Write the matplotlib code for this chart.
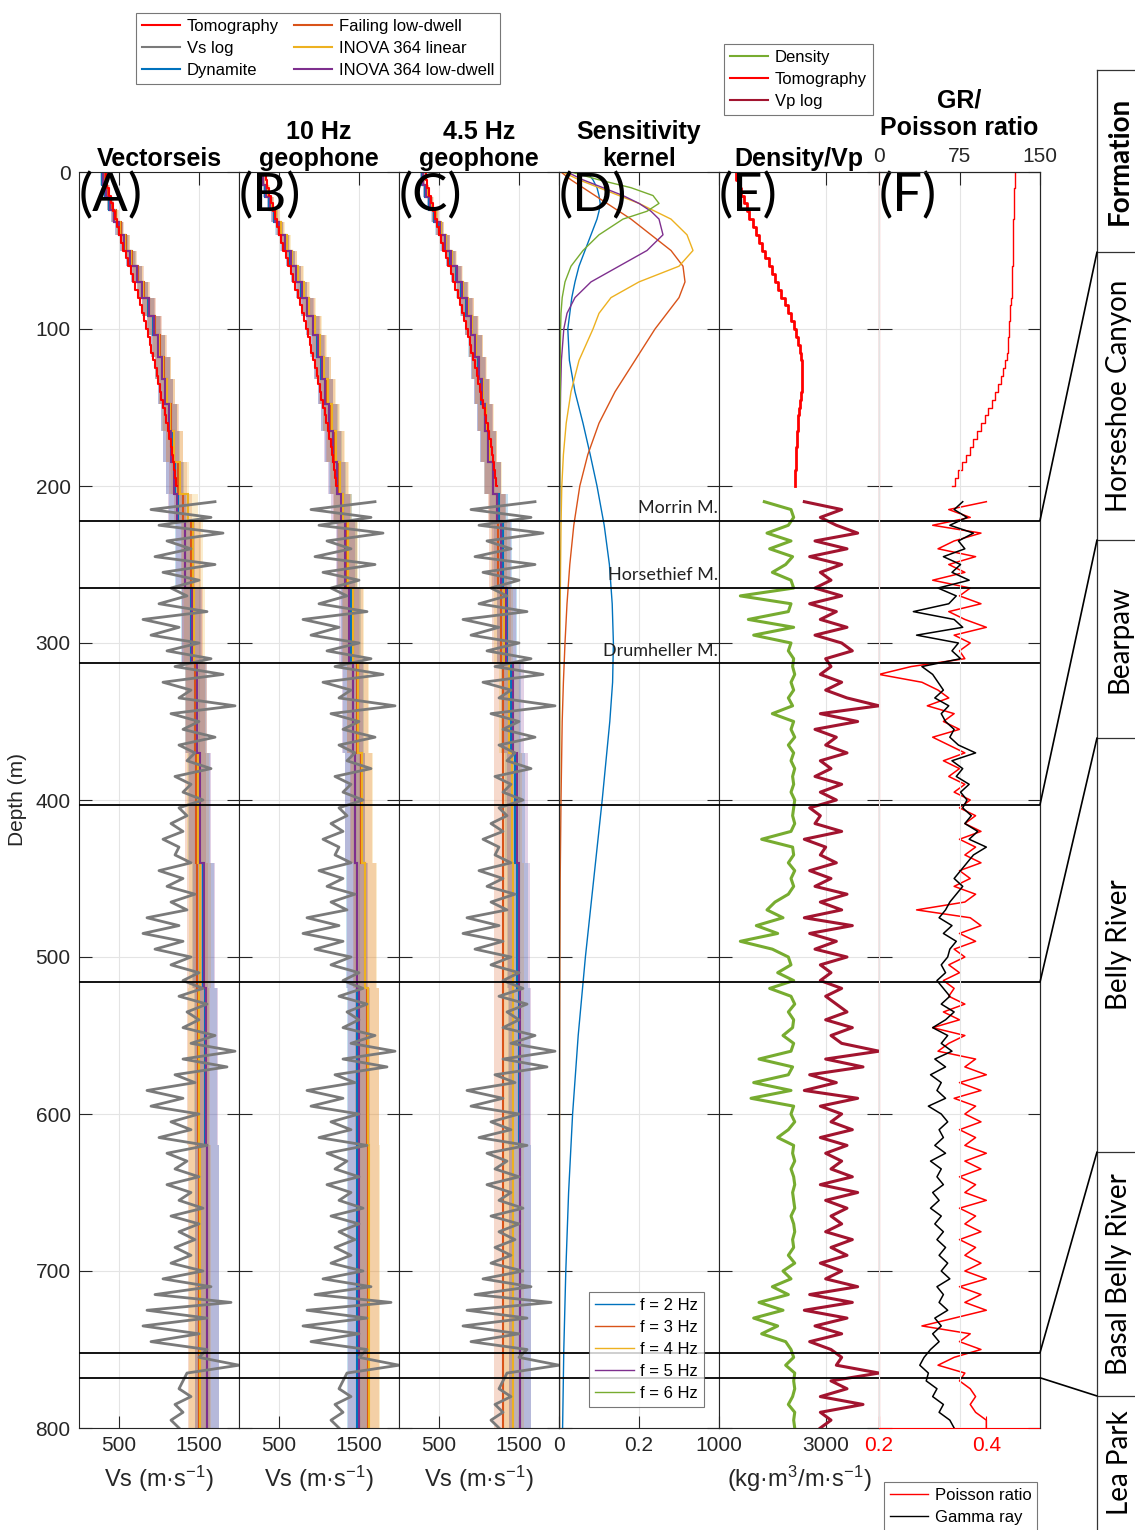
import numpy as np
import matplotlib
matplotlib.use("Agg")
import matplotlib.pyplot as plt
from matplotlib.lines import Line2D
from matplotlib.patches import ConnectionPatch

plt.rcParams['font.family'] = ['Liberation Sans', 'DejaVu Sans']
plt.rcParams['mathtext.fontset'] = 'custom'
plt.rcParams['mathtext.rm'] = 'Liberation Sans'
plt.rcParams['mathtext.it'] = 'Liberation Sans:italic'
plt.rcParams['mathtext.bf'] = 'Liberation Sans:bold'

# ------------------------------------------------------------------ data
panel_titles = ['Vectorseis', '10 Hz\ngeophone', '4.5 Hz\ngeophone',
                'Sensitivity\nkernel', 'Density/Vp']
panel_letters = ['(A)', '(B)', '(C)', '(D)', '(E)', '(F)']
source_labels = ['Dynamite', 'Failing low-dwell', 'INOVA 364 linear', 'INOVA 364 low-dwell']

# layered inversion models (layer edges in m, Vs in m/s)
layer_edges = [0, 8, 16, 24, 32, 40, 50, 60, 70, 80, 92, 104, 118, 132, 148,
               165, 185, 205, 222, 265, 313, 370, 440, 520, 620, 800]
dyn_A = [290, 330, 380, 440, 500, 570, 650, 720, 790, 860, 930, 990, 1040, 1080, 1120, 1160, 1200, 1240,
         1320, 1400, 1460, 1500, 1550, 1580, 1600]
fail_A = [310, 350, 400, 460, 520, 590, 660, 740, 810, 880, 950, 1010, 1060, 1100, 1150, 1190, 1240, 1300,
          1400, 1420, 1450, 1460, 1480, 1490, 1500]
lin_A = [300, 340, 390, 450, 510, 580, 655, 730, 800, 870, 940, 1000, 1050, 1100, 1140, 1190, 1260, 1360,
         1420, 1440, 1470, 1490, 1510, 1500, 1510]
low_A = [300, 340, 390, 440, 500, 560, 640, 720, 790, 870, 940, 990, 1040, 1080, 1120, 1150, 1190, 1225,
         1330, 1410, 1470, 1510, 1560, 1590, 1600]
dyn_B = [290, 330, 380, 440, 500, 570, 640, 710, 780, 850, 920, 980, 1030, 1080, 1130, 1180, 1230, 1300,
         1350, 1400, 1430, 1450, 1470, 1480, 1480]
fail_B = [300, 345, 400, 460, 520, 590, 660, 730, 800, 870, 940, 1000, 1050, 1100, 1150, 1200, 1250, 1290,
          1350, 1420, 1480, 1530, 1570, 1600, 1610]
lin_B = [305, 350, 405, 465, 525, 595, 665, 740, 810, 880, 950, 1010, 1060, 1110, 1160, 1210, 1260, 1300,
         1360, 1430, 1490, 1540, 1580, 1610, 1620]
low_B = [295, 335, 385, 445, 505, 575, 645, 715, 785, 855, 925, 985, 1035, 1080, 1120, 1170, 1220, 1270,
         1330, 1380, 1420, 1450, 1480, 1500, 1500]
dyn_C = [290, 330, 380, 440, 500, 570, 640, 710, 780, 840, 900, 950, 990, 1030, 1070, 1110, 1170, 1250,
         1300, 1350, 1400, 1450, 1480, 1500, 1510]
fail_C = [300, 340, 395, 455, 515, 585, 655, 725, 795, 855, 910, 960, 1000, 1040, 1080, 1120, 1170, 1220,
          1240, 1280, 1300, 1300, 1300, 1300, 1300]
lin_C = [300, 345, 400, 460, 520, 590, 660, 730, 800, 860, 915, 965, 1005, 1045, 1085, 1125, 1180, 1230,
         1270, 1310, 1380, 1410, 1430, 1430, 1430]
low_C = [295, 335, 390, 450, 510, 580, 650, 720, 790, 850, 905, 955, 995, 1035, 1075, 1115, 1175, 1230,
         1280, 1340, 1430, 1480, 1500, 1510, 1510]

# tomography (0-200 m, every 5 m)
tomo_vs = [340, 355, 375, 395, 420, 445, 470, 500, 525, 555,
           585, 615, 645, 675, 705, 735, 760, 785, 810, 835,
           860, 882, 904, 926, 948, 970, 990, 1010, 1030, 1050,
           1070, 1090, 1110, 1128, 1145, 1160, 1175, 1190, 1205, 1218,
           1230]
tomo_vp = [1320, 1370, 1420, 1470, 1520, 1570, 1630, 1690, 1750, 1810,
           1870, 1930, 1990, 2050, 2110, 2170, 2230, 2290, 2350, 2400,
           2450, 2490, 2520, 2545, 2560, 2565, 2560, 2550, 2535, 2520,
           2505, 2490, 2475, 2465, 2455, 2445, 2440, 2435, 2430, 2425,
           2420]
tomo_pr = [0.454, 0.453, 0.452, 0.452, 0.451, 0.451, 0.450, 0.450, 0.449, 0.449,
           0.449, 0.449, 0.448, 0.448, 0.447, 0.447, 0.446, 0.445, 0.444, 0.443,
           0.442, 0.441, 0.440, 0.438, 0.435, 0.431, 0.427, 0.422, 0.417, 0.411,
           0.404, 0.397, 0.390, 0.383, 0.376, 0.369, 0.362, 0.355, 0.348, 0.341,
           0.336]

# well logs (210-800 m, every 5 m)
vs_log = [1700, 900, 1650, 1000, 1800, 1100, 1400, 950, 1700, 1050,
          1500, 1150, 1350, 1000, 1600, 800, 1250, 900, 1500, 1100,
          1650, 1200, 1800, 1050, 1400, 1250, 1950, 1150, 1500, 1300,
          1700, 1250, 1450, 1350, 1650, 1200, 1400, 1300, 1550, 1250,
          1350, 1150, 1300, 1050, 1250, 1200, 1400, 1000, 1300, 1100,
          1450, 1150, 1350, 850, 1250, 800, 1300, 950, 1400, 1150,
          1500, 1300, 1550, 1250, 1600, 1350, 1500, 1300, 1700, 1400,
          1950, 1300, 1850, 1200, 1450, 850, 1300, 900, 1500, 1150,
          1400, 1000, 1600, 1100, 1350, 1200, 1500, 1100, 1400, 1250,
          1550, 1150, 1500, 1250, 1450, 1200, 1400, 1150, 1550, 1050,
          1650, 950, 1900, 850, 1600, 800, 1500, 900, 1600, 1500,
          2000, 1350, 1300, 1250, 1400, 1200, 1300, 1150, 1250]
density_log = [1850, 2350, 2400, 2300, 1900, 2350, 1950, 2380, 2250, 2000,
               2350, 2400, 1400, 2350, 2300, 1550, 2400, 1650, 2350, 2300,
               2400, 2380, 2420, 2350, 2400, 2300, 2380, 2000, 2400, 2350,
               2420, 2300, 2400, 2350, 2420, 2380, 2400, 2350, 2420, 2400,
               2380, 2420, 2350, 1800, 2380, 2400, 2300, 2420, 2350, 2400,
               2300, 2050, 1900, 2200, 1700, 2100, 1400, 2000, 2300, 2350,
               2100, 2400, 1950, 2350, 2420, 2300, 2400, 2380, 2200, 2400,
               2350, 1750, 2380, 2300, 1650, 2350, 1600, 2400, 2350, 2420,
               2300, 2100, 2400, 2380, 2420, 2350, 2400, 2420, 2380, 2400,
               2420, 2350, 2400, 2420, 2380, 2400, 2300, 2420, 2200, 2350,
               2000, 2300, 1750, 2200, 1650, 2100, 1800, 2250, 2350, 2400,
               2250, 2420, 2400, 2420, 2380, 2300, 2420, 2400, 2420]
vp_log = [2600, 3300, 2900, 3200, 3600, 2800, 3400, 2700, 3300, 2900,
          3100, 2800, 3300, 2700, 3200, 2900, 3400, 2800, 3300, 3500,
          3000, 3100, 2900, 3300, 3000, 3400, 4000, 2900, 3600, 2800,
          3200, 3000, 3400, 2900, 3100, 2800, 3300, 2900, 3200, 2700,
          2900, 2800, 3300, 2600, 3000, 2900, 3200, 2700, 3100, 2800,
          3400, 2900, 3300, 2600, 3500, 2700, 3200, 2800, 3400, 2900,
          3100, 2900, 3300, 3000, 3200, 3400, 3000, 3500, 3100, 3300,
          4000, 3000, 3700, 2700, 3200, 2600, 3600, 2900, 3300, 3100,
          3500, 2900, 3400, 3000, 3300, 3100, 3500, 2900, 3600, 3000,
          3400, 3100, 3300, 3000, 3500, 3100, 3400, 2900, 3300, 3000,
          3600, 2700, 3500, 2600, 3400, 2800, 3300, 2700, 3100, 3300,
          3200, 4000, 3100, 3400, 2900, 3700, 2900, 3100, 2900]
poisson_log = [0.40, 0.33, 0.37, 0.30, 0.39, 0.34, 0.31, 0.38, 0.33, 0.36,
               0.30, 0.37, 0.35, 0.39, 0.33, 0.36, 0.40, 0.34, 0.37, 0.35,
               0.36, 0.26, 0.20, 0.28, 0.31, 0.33, 0.29, 0.34, 0.32, 0.35,
               0.30, 0.33, 0.36, 0.32, 0.35, 0.33, 0.36, 0.34, 0.37, 0.35,
               0.38, 0.36, 0.39, 0.35, 0.38, 0.36, 0.39, 0.35, 0.37, 0.34,
               0.38, 0.36, 0.27, 0.37, 0.39, 0.35, 0.38, 0.34, 0.36, 0.33,
               0.35, 0.32, 0.34, 0.33, 0.36, 0.32, 0.35, 0.30, 0.36, 0.33,
               0.31, 0.38, 0.36, 0.40, 0.35, 0.39, 0.34, 0.38, 0.36, 0.39,
               0.35, 0.38, 0.36, 0.40, 0.36, 0.39, 0.35, 0.38, 0.36, 0.40,
               0.35, 0.38, 0.36, 0.39, 0.35, 0.38, 0.36, 0.39, 0.36, 0.40,
               0.35, 0.39, 0.36, 0.40, 0.34, 0.28, 0.37, 0.35, 0.39, 0.34,
               0.31, 0.36, 0.35, 0.37, 0.38, 0.37, 0.38, 0.40, 0.40]
gr_log = [78, 70, 82, 66, 88, 74, 80, 60, 76, 68,
          84, 55, 72, 65, 32, 70, 78, 35, 74, 68,
          76, 40, 50, 55, 60, 52, 65, 58, 62, 70,
          66, 74, 90, 68, 78, 72, 84, 76, 82, 78,
          86, 80, 92, 84, 100, 88, 82, 76, 70, 78,
          72, 66, 62, 56, 68, 60, 72, 66, 64, 58,
          62, 54, 60, 66, 58, 70, 62, 50, 64, 58,
          68, 52, 62, 48, 58, 54, 62, 46, 58, 64,
          56, 60, 52, 62, 48, 58, 54, 60, 50, 56,
          48, 58, 52, 60, 54, 62, 56, 64, 58, 66,
          54, 60, 56, 64, 52, 58, 50, 56, 48, 42,
          38, 46, 44, 54, 50, 60, 56, 66, 70]

# sensitivity kernels
kernel_depth = [0, 5, 10, 15, 20, 25, 30, 40, 50, 60, 70, 80, 90, 100, 120, 140, 160, 180, 200,
                225, 250, 275, 300, 325, 350, 400, 450, 500, 550, 600, 650, 700, 750, 800]
kernel_labels = ['f = 2 Hz', 'f = 3 Hz', 'f = 4 Hz', 'f = 5 Hz', 'f = 6 Hz']
k2 = [0.07, 0.085, 0.095, 0.1, 0.103, 0.1, 0.095, 0.08, 0.065, 0.05, 0.04, 0.032, 0.027, 0.022, 0.026,
      0.04, 0.06, 0.078, 0.095, 0.113, 0.126, 0.133, 0.136, 0.134, 0.127, 0.108, 0.087, 0.066, 0.048,
      0.034, 0.024, 0.017, 0.012, 0.009]
k3 = [0.005, 0.03, 0.06, 0.09, 0.12, 0.15, 0.18, 0.23, 0.28, 0.31, 0.315, 0.3, 0.27, 0.24, 0.19, 0.14,
      0.1, 0.072, 0.052, 0.037, 0.027, 0.02, 0.015, 0.011, 0.008, 0.005, 0.003, 0.002, 0.0015, 0.001,
      0.001, 0.001, 0.001, 0.001]
k4 = [0.01, 0.05, 0.1, 0.15, 0.2, 0.24, 0.28, 0.32, 0.335, 0.3, 0.2, 0.13, 0.1, 0.085, 0.05, 0.03,
      0.018, 0.011, 0.007, 0.005, 0.004, 0.003, 0.002, 0.002, 0.002, 0.001, 0.001, 0.001, 0.001, 0.001,
      0.001, 0.001, 0.001, 0.001]
k5 = [0.02, 0.06, 0.11, 0.16, 0.2, 0.23, 0.25, 0.26, 0.22, 0.15, 0.08, 0.04, 0.02, 0.012, 0.006, 0.004,
      0.003, 0.002, 0.002, 0.001, 0.001, 0.001, 0.001, 0.001, 0.001, 0.001, 0.001, 0.001, 0.001, 0.001,
      0.001, 0.001, 0.001, 0.001]
k6 = [0.03, 0.1, 0.18, 0.235, 0.25, 0.22, 0.16, 0.1, 0.06, 0.03, 0.015, 0.008, 0.005, 0.004, 0.003,
      0.003, 0.002, 0.002, 0.002, 0.001, 0.001, 0.001, 0.001, 0.001, 0.001, 0.001, 0.001, 0.001, 0.001,
      0.001, 0.001, 0.001, 0.001, 0.001]

# horizons and formations
horizon_depths = [222, 265, 313, 403, 516, 752, 768]
marker_names = ['Morrin M.', 'Horsethief M.', 'Drumheller M.']
formation_names = ['Horseshoe Canyon', 'Bearpaw', 'Belly River', 'Basal Belly River', 'Lea Park']
formation_edges = [0.0, 0.1247, 0.3219, 0.4575, 0.7411, 0.9082, 1.0]   # fraction of the column
connector_depths = [222, 403, 516, 752, 768]

# ------------------------------------------------------------------ style
C_DYN, C_FAIL, C_LIN, C_LOW = '#0072BD', '#D95319', '#EDB120', '#7E2F8E'
C_GREEN, C_VP, C_TOMO, C_LOG = '#77AC30', '#A2142F', '#FF0000', '#7A7A7A'
src_colors = [C_DYN, C_FAIL, C_LIN, C_LOW]
kernel_colors = [C_DYN, C_FAIL, C_LIN, C_LOW, C_GREEN]
AX_C = '#262626'
CAL = ['Lato', 'DejaVu Sans']
TITLE_FS = 18
LEG_KW = dict(frameon=True, fancybox=False, edgecolor='#555555', handlelength=2.3,
              handletextpad=0.4, labelspacing=0.42, borderpad=0.35, borderaxespad=0)

W, H = 1135, 1530
fig = plt.figure(figsize=(W / 100, H / 100), dpi=100)


def px_axes(x0, x1, y0, y1):
    return fig.add_axes([x0 / W, 1 - y1 / H, (x1 - x0) / W, (y1 - y0) / H])


TOP, BOT = 172, 1428
XS = [79, 239, 399, 559, 719, 879, 1040]
axes = [px_axes(XS[i], XS[i + 1], TOP, BOT) for i in range(6)]


def style(ax, ylabels=False):
    ax.set_ylim(800, 0)
    ax.set_yticks(range(0, 801, 100))
    if not ylabels:
        ax.set_yticklabels([])
    ax.tick_params(direction='in', length=9, width=0.8, top=True, right=True,
                   labelsize=15, color=AX_C, labelcolor=AX_C, pad=6)
    ax.grid(True, color='#e4e4e4', lw=0.8)
    ax.set_axisbelow(True)
    for s in ax.spines.values():
        s.set_color(AX_C)
        s.set_linewidth(0.8)


log_depth = np.linspace(210, 800, len(vs_log))
tomo_depth = np.linspace(0, 200, len(tomo_vs))
edges = np.asarray(layer_edges, float)

profiles = [(dyn_A, fail_A, lin_A, low_A), (dyn_B, fail_B, lin_B, low_B), (dyn_C, fail_C, lin_C, low_C)]
for i, (ax, prof) in enumerate(zip(axes[:3], profiles)):
    style(ax, ylabels=(i == 0))
    for v, c in zip(prof, src_colors):
        v = np.asarray(v, float)
        ax.stairs(v * 1.09, edges, baseline=v * 0.91, fill=True, orientation='horizontal',
                  color=c, alpha=0.22, lw=0)
    ax.plot(vs_log, log_depth, color=C_LOG, lw=2)
    for v, c in zip(prof, src_colors):
        ax.stairs(v, edges, orientation='horizontal', baseline=None, color=c, lw=1.5)
    ax.plot(tomo_vs, tomo_depth, color=C_TOMO, lw=1.5, drawstyle='steps-pre')
    ax.set_xlim(0, 2000)
    ax.set_xticks([500, 1500])
    ax.set_xlabel('Vs (m·s$^{-1}$)', fontsize=17, color=AX_C, labelpad=6)
    ax.set_title(panel_titles[i], fontsize=TITLE_FS, fontweight='bold', pad=4, linespacing=1.2)

axes[0].set_ylabel('Depth (m)', fontsize=15, color=AX_C, labelpad=6)

# D: kernels
axD = axes[3]
style(axD)
for k, c, lab in zip([k2, k3, k4, k5, k6], kernel_colors, kernel_labels):
    axD.plot(k, kernel_depth, color=c, lw=1.0, label=lab)
axD.set_xlim(0, 0.4)
axD.set_xticks([0, 0.2])
axD.set_xticklabels(['0', '0.2'])
axD.set_title(panel_titles[3], fontsize=TITLE_FS, fontweight='bold', pad=4, linespacing=1.2)
legD = axD.legend(loc='upper left', bbox_to_anchor=(0.19, 0.108), fontsize=12, **LEG_KW)
legD.get_frame().set_linewidth(0.8)
legD.set_zorder(20)
for d, name in zip(horizon_depths[:3], marker_names):
    axD.text(0.398, d - 3, name, ha='right', va='bottom', fontsize=13, family=CAL, color='#222222')

# E: density / Vp
axE = axes[4]
style(axE)
axE.plot(density_log, log_depth, color=C_GREEN, lw=2.2, label='Density')
axE.plot(tomo_vp, tomo_depth, color=C_TOMO, lw=2, drawstyle='steps-pre', label='Tomography')
axE.plot(vp_log, log_depth, color=C_VP, lw=2.2, label='Vp log')
axE.set_xlim(1000, 4000)
axE.set_xticks([1000, 3000])
axE.set_xlabel('(kg·m$^{3}$/m·s$^{-1}$)', fontsize=17, color=AX_C, labelpad=6)
axE.set_title(panel_titles[4], fontsize=TITLE_FS, fontweight='bold', pad=4)
legE = fig.legend(handles=[Line2D([], [], color=C_GREEN, lw=1.5), Line2D([], [], color=C_TOMO, lw=1.5),
                           Line2D([], [], color=C_VP, lw=1.5)],
                  labels=['Density', 'Tomography', 'Vp log'], loc='upper left',
                  bbox_to_anchor=(724 / W, 1 - 44 / H), fontsize=12, **LEG_KW)
legE.get_frame().set_linewidth(0.8)

# F: Poisson ratio / GR
axF = axes[5]
style(axF)
axF.grid(False, axis='x')
axF.plot(tomo_pr, tomo_depth, color=C_TOMO, lw=1.0, drawstyle='steps-pre')
axF.plot(poisson_log, log_depth, color=C_TOMO, lw=1.1)
axF.set_xlim(0.2, 0.5)
axF.set_xticks([0.2, 0.4])
axF.set_xticklabels(['0.2', '0.4'])
axF.tick_params(axis='x', colors='red', labelcolor='red', top=False)
axF.spines['left'].set_color('red')
axF.spines['bottom'].set_color('red')
for t in axF.yaxis.get_major_ticks():
    t.tick1line.set_color('red')
axF2 = axF.twiny()
axF2.plot(gr_log, log_depth, color='black', lw=1.1)
axF2.set_xlim(0, 150)
axF2.set_xticks([0, 75, 150])
axF2.tick_params(axis='x', direction='in', length=9, width=0.8, labelsize=15, color=AX_C,
                 labelcolor=AX_C, pad=4)
axF2.grid(True, axis='x', color='#e4e4e4', lw=0.8)
axF2.set_axisbelow(True)
for s in ['bottom', 'left']:
    axF2.spines[s].set_visible(False)
for s in ['top', 'right']:
    axF2.spines[s].set_color(AX_C)
    axF2.spines[s].set_linewidth(0.8)
axF2.set_title('GR/\nPoisson ratio', fontsize=TITLE_FS, fontweight='bold', pad=9, linespacing=1.2)
legF = fig.legend(handles=[Line2D([], [], color=C_TOMO, lw=1), Line2D([], [], color='black', lw=1)],
                  labels=['Poisson ratio', 'Gamma ray'], loc='upper left',
                  bbox_to_anchor=(884 / W, 1 - 1482 / H), fontsize=12, **LEG_KW)
legF.get_frame().set_linewidth(0.8)

# horizons and panel letters
for ax, letter in zip(axes, panel_letters):
    for d in horizon_depths:
        ax.axhline(d, color='black', lw=1.3, zorder=6)
    ax.text(-0.005, 1.0, letter, transform=ax.transAxes, ha='left', va='top', fontsize=38,
            family=CAL, color='black', zorder=10)

# top legend
src_handles = [Line2D([], [], color=C_TOMO, lw=1.5), Line2D([], [], color=C_LOG, lw=1.5),
               Line2D([], [], color=C_DYN, lw=1.5), Line2D([], [], color=C_FAIL, lw=1.5),
               Line2D([], [], color=C_LIN, lw=1.5), Line2D([], [], color=C_LOW, lw=1.5)]
src_names = ['Tomography', 'Vs log', source_labels[0], source_labels[1], source_labels[2], source_labels[3]]
legT = fig.legend(handles=src_handles, labels=src_names, loc='upper left', ncol=2,
                  bbox_to_anchor=(136 / W, 1 - 13 / H), fontsize=12, columnspacing=0.9, **LEG_KW)
legT.get_frame().set_linewidth(0.8)

# formation column
axFm = fig.add_axes([1097 / W, 0, 45 / W, 1 - 70 / H])
axFm.set_xlim(0, 1)
axFm.set_ylim(1, 0)
axFm.set_xticks([])
axFm.set_yticks([])
for s in ['right', 'bottom']:
    axFm.spines[s].set_visible(False)
for s in ['left', 'top']:
    axFm.spines[s].set_color('#333333')
    axFm.spines[s].set_linewidth(0.9)
for e in formation_edges[1:-1]:
    axFm.axhline(e, color='#333333', lw=0.9)
axFm.text(0.5, (formation_edges[0] + formation_edges[1]) / 2, 'Formation', rotation=90,
          ha='center', va='center', fontsize=20, fontweight='bold', family=CAL)
for name, a, b in zip(formation_names, formation_edges[1:-1], formation_edges[2:]):
    axFm.text(0.5, (a + b) / 2, name, rotation=90, ha='center', va='center', fontsize=20, family=CAL)

for d, e in zip(connector_depths, formation_edges[1:-1]):
    con = ConnectionPatch(xyA=(0.5, d), coordsA=axF.transData, xyB=(0, e), coordsB=axFm.transData,
                          color='black', lw=1.2)
    fig.add_artist(con)

fig.savefig('out.png', dpi=100)
